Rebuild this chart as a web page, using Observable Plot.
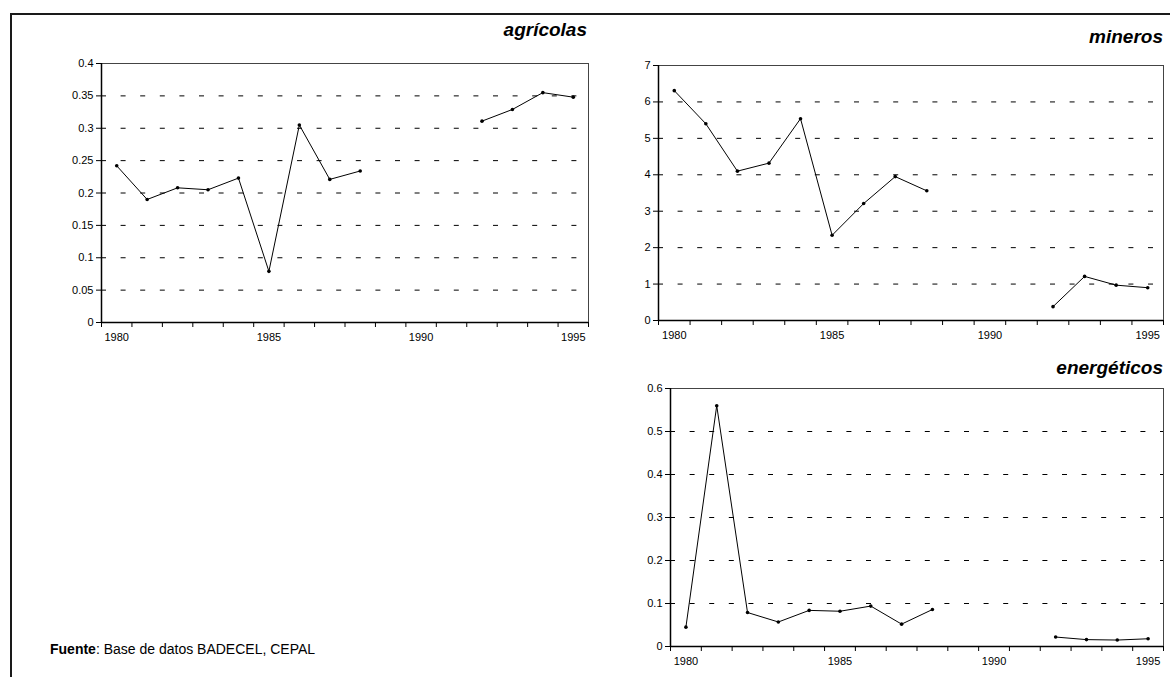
<!DOCTYPE html>
<html>
<head>
<meta charset="utf-8">
<script src="https://cdn.jsdelivr.net/npm/d3@7"></script>
<script src="https://cdn.jsdelivr.net/npm/@observablehq/plot@0.6"></script>
<style>
html, body { margin: 0; padding: 0; background: #fff; width: 1170px; height: 677px; overflow: hidden;
  font-family: "Liberation Sans", Arial, sans-serif; }
#frame { position: absolute; left: 10px; top: 13px; width: 1300px; height: 800px; border: 2px solid #1a1a1a; box-sizing: border-box; }
.panel { position: absolute; }
.title { position: absolute; font-weight: bold; font-style: italic; font-size: 19px; line-height: 20px; color: #000; white-space: nowrap; text-align: right; }
#source { position: absolute; left: 50px; top: 641px; font-size: 14px; line-height: 16px; color: #000; white-space: nowrap; }
</style>
</head>
<body>
<div id="frame"></div>
<div class="title" style="right:583px; top:20px;">agrícolas</div>
<div class="title" style="right:7px; top:27px;">mineros</div>
<div class="title" style="right:7px; top:358px;">energéticos</div>
<div id="source"><b>Fuente</b>: Base de datos BADECEL, CEPAL</div>
<div id="p1" class="panel" style="left:0px; top:50px;"></div>
<div id="p2" class="panel" style="left:600px; top:50px;"></div>
<div id="p3" class="panel" style="left:600px; top:375px;"></div>
<script>
const FONT = "'Liberation Sans', Arial, sans-serif";

const years = [1980, 1981, 1982, 1983, 1984, 1985, 1986, 1987, 1988, 1989, 1990, 1991, 1992, 1993, 1994, 1995];
const agricolas = [0.242, 0.190, 0.208, 0.205, 0.223, 0.079, 0.305, 0.221, 0.234, null, null, null, 0.311, 0.329, 0.355, 0.348];
const mineros = [6.31, 5.40, 4.10, 4.32, 5.54, 2.34, 3.21, 3.95, 3.56, null, null, null, 0.38, 1.21, 0.97, 0.90];
const energeticos = [0.045, 0.560, 0.079, 0.057, 0.084, 0.082, 0.094, 0.052, 0.086, null, null, null, 0.022, 0.016, 0.015, 0.018];

const xLabels = [1980, 1985, 1990, 1995];
const agriTicks = [0, 0.05, 0.1, 0.15, 0.2, 0.25, 0.3, 0.35, 0.4];
const minTicks = [0, 1, 2, 3, 4, 5, 6, 7];
const enerTicks = [0, 0.1, 0.2, 0.3, 0.4, 0.5, 0.6];

function panel(el, values, ticks, o) {
  const data = years.map((yr, i) => ({year: yr, v: values[i]}));
  const ymax = ticks[ticks.length - 1];
  const grid = ticks.filter(t => t > 0 && t < ymax);
  const bounds = years.map(y => y - 0.5).concat([years[years.length - 1] + 0.5]);
  const chart = Plot.plot({
    width: o.width, height: o.height,
    marginLeft: o.ml, marginRight: o.mr, marginTop: o.mt, marginBottom: o.mb,
    style: {fontFamily: FONT, fontSize: "11px", background: "transparent", overflow: "visible", color: "#000"},
    x: {domain: [bounds[0], bounds[bounds.length - 1]]},
    y: {domain: [0, ymax]},
    marks: [
      Plot.ruleY(grid, {stroke: "#000", strokeWidth: 1, strokeDasharray: "5,14.6"}),
      Plot.frame({stroke: "#444", strokeWidth: 1}),
      Plot.ruleX([bounds[0]], {stroke: "#000", strokeWidth: 1.5}),
      Plot.ruleY([0], {stroke: "#000", strokeWidth: 1.5}),
      Plot.axisY(ticks, {tickSize: 5, tickPadding: 3, tickFormat: d => String(d), label: null}),
      Plot.axisX(bounds, {tickSize: 5, tickFormat: () => "", label: null}),
      Plot.axisX(xLabels, {tickSize: 0, tickPadding: 11, tickFormat: d => String(d), label: null}),
      Plot.line(data, {x: "year", y: "v", stroke: "#000", strokeWidth: 1}),
      Plot.dot(data, {x: "year", y: "v", r: 1.8, fill: "#000", stroke: null})
    ]
  });
  document.getElementById(el).appendChild(chart);
}

panel("p1", agricolas, agriTicks, {width: 600, height: 302, ml: 101, mr: 12, mt: 13, mb: 30});
panel("p2", mineros, minTicks, {width: 570, height: 300, ml: 58, mr: 7, mt: 15, mb: 30});
panel("p3", energeticos, enerTicks, {width: 570, height: 300, ml: 70, mr: 7, mt: 13, mb: 29});
</script>
</body>
</html>
